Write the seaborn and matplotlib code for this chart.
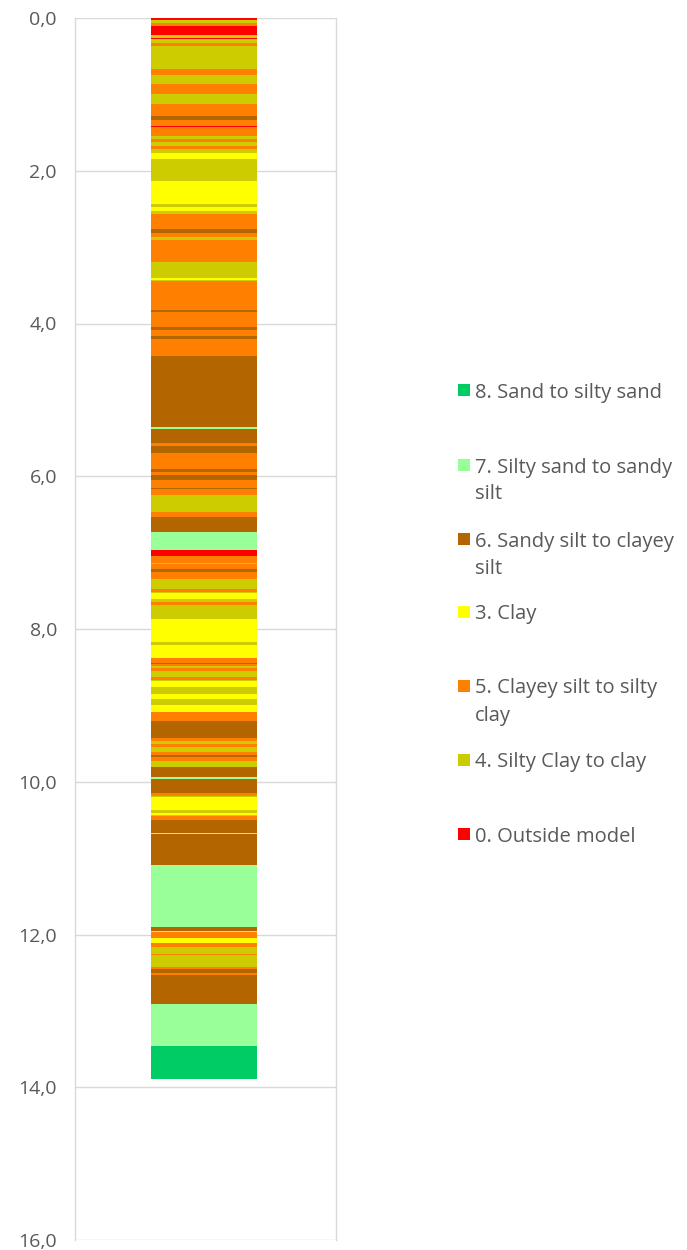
import matplotlib
matplotlib.use("Agg")
import matplotlib.pyplot as plt
from matplotlib.patches import Rectangle
import pandas as pd
import seaborn as sns

# Soil behaviour type classes (legend order) and colours
class_codes = [8, 7, 6, 3, 5, 4, 0]
class_labels = ["8. Sand to silty sand",
                "7. Silty sand to sandy\nsilt",
                "6. Sandy silt to clayey\nsilt",
                "3. Clay",
                "5. Clayey silt to silty\nclay",
                "4. Silty Clay to clay",
                "0. Outside model"]
class_colors = {8: "#00CC66", 7: "#99FF99", 6: "#B36600", 3: "#FFFF00",
                5: "#FF8000", 4: "#CCCC00", 0: "#FF0000"}

# Layer tops (m) and their class, from the surface downwards
layer_top = [0.00, 0.02, 0.07, 0.11, 0.22, 0.26, 0.28, 0.33, 0.37, 0.67,
             0.74, 0.87, 1.00, 1.12, 1.28, 1.33, 1.42, 1.43, 1.54, 1.59,
             1.62, 1.67, 1.72, 1.77, 1.85, 2.14, 2.43, 2.48, 2.53, 2.57,
             2.76, 2.82, 2.87, 2.91, 3.20, 3.41, 3.43, 3.44, 3.82, 3.85,
             4.05, 4.09, 4.16, 4.20, 4.42, 5.36, 5.38, 5.56, 5.60, 5.70,
             5.91, 5.94, 5.98, 6.05, 6.16, 6.17, 6.25, 6.32, 6.33, 6.47,
             6.54, 6.73, 6.96, 6.97, 7.05, 7.13, 7.15, 7.22, 7.25, 7.34,
             7.48, 7.51, 7.53, 7.61, 7.64, 7.69, 7.72, 7.73, 7.87, 8.06,
             8.07, 8.17, 8.21, 8.38, 8.44, 8.46, 8.49, 8.51, 8.55, 8.63,
             8.67, 8.68, 8.76, 8.85, 8.91, 8.99, 9.09, 9.20, 9.43, 9.47,
             9.51, 9.55, 9.61, 9.65, 9.67, 9.73, 9.81, 9.94, 9.97, 10.15,
             10.19, 10.20, 10.37, 10.41, 10.43, 10.45, 10.50, 10.67, 10.69, 11.09,
             11.90, 11.96, 11.97, 12.04, 12.05, 12.11, 12.17, 12.25, 12.27, 12.43,
             12.45, 12.51, 12.53, 12.80, 12.81, 12.91, 13.46]
layer_class = [0, 4, 5, 0, 4, 0, 4, 5, 4, 5,
               4, 5, 4, 5, 6, 5, 0, 5, 4, 5,
               4, 5, 4, 3, 4, 3, 4, 3, 4, 5,
               6, 5, 4, 5, 4, 3, 4, 5, 6, 5,
               6, 5, 6, 5, 6, 7, 6, 5, 6, 5,
               6, 5, 6, 5, 6, 5, 4, 5, 4, 5,
               6, 7, 4, 0, 5, 4, 5, 6, 5, 4,
               5, 4, 3, 4, 5, 4, 5, 4, 3, 4,
               3, 4, 3, 5, 6, 5, 4, 5, 4, 5,
               4, 3, 4, 3, 4, 3, 5, 6, 5, 4,
               5, 4, 5, 6, 5, 4, 6, 7, 6, 5,
               4, 3, 4, 3, 4, 5, 6, 7, 6, 7,
               6, 7, 5, 4, 3, 5, 4, 5, 4, 5,
               6, 5, 6, 7, 6, 7, 8]
end_depth = 13.89

ytick_values = [0, 2, 4, 6, 8, 10, 12, 14, 16]

layer_bottom = layer_top[1:] + [end_depth]
df = pd.DataFrame({
    "col": ["CPT"] * len(layer_top),
    "bottom": layer_bottom,
    "layer": [f"L{i:03d}" for i in range(len(layer_top))],
    "cls": layer_class,
})
# deepest layer first, shallower layers painted over it
order = df.sort_values("bottom", ascending=False)["layer"].tolist()
palette = {r.layer: class_colors[r.cls] for r in df.itertuples()}

sns.set_theme(style="white")
plt.rcParams["font.family"] = ["Open Sans", "DejaVu Sans"]

W, H = 687, 1250
fig = plt.figure(figsize=(W / 100, H / 100), dpi=100)
ax = fig.add_axes([75 / W, 1 - 1240 / H, (336 - 75) / W, (1240 - 18) / H])

sns.barplot(data=df, x="col", y="bottom", hue="layer", hue_order=order,
            palette=palette, saturation=1, dodge=False, width=0.406,
            errorbar=None, linewidth=0, legend=False, ax=ax)

ax.set_xlim(-0.494, 0.506)
ax.set_ylim(16, 0)
ax.set_yticks(ytick_values)
ax.set_yticklabels([f"{v:.1f}".replace(".", ",") for v in ytick_values])
ax.set_xticks([])
ax.set_xlabel("")
ax.set_ylabel("")
ax.tick_params(axis="y", length=0, pad=13, labelsize=14, labelcolor="#595959")
ax.set_axisbelow(True)
ax.yaxis.grid(True, color="#D9D9D9", linewidth=1.0)
for side in ["top", "bottom"]:
    ax.spines[side].set_visible(False)
for side in ["left", "right"]:
    ax.spines[side].set_color("#D9D9D9")
    ax.spines[side].set_linewidth(1.0)

# legend, one slot per class
slot_y = [390, 465, 539, 612, 686, 760, 834]
for code, label, y in zip(class_codes, class_labels, slot_y):
    fig.add_artist(Rectangle((458 / W, 1 - (y + 6) / H), 12 / W, 12 / H,
                             transform=fig.transFigure,
                             facecolor=class_colors[code], edgecolor="none"))
    for k, line in enumerate(label.split("\n")):
        fig.text(475 / W, 1 - (y + 27 * k) / H, line, fontsize=14.5,
                 color="#595959", ha="left", va="center_baseline")

fig.savefig("out.png", dpi=100)
